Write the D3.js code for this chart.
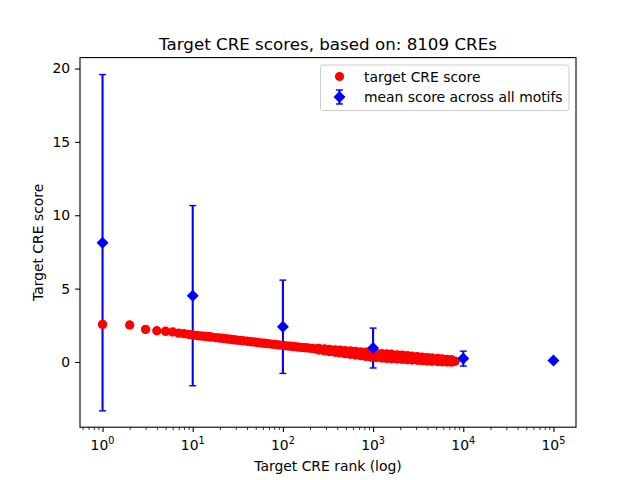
<!DOCTYPE html>
<html>
<head>
<meta charset="utf-8">
<script src="https://cdn.jsdelivr.net/npm/d3@7"></script>
<style>
  html, body { margin: 0; padding: 0; background: #fff; }
  svg { display: block; font-family: "DejaVu Sans", sans-serif; }
</style>
</head>
<body>
<svg id="chart" width="640" height="480"></svg>
<script>
const creRanks = [1, 2, 3, 4, 5, 6, 7, 8, 9, 10, 11, 12, 13, 14, 15, 16, 18, 20, 22, 24, 26, 28, 30, 33, 36,
  40, 44, 48, 52, 57, 62, 68, 75, 82, 90, 100, 110, 120, 132, 145, 160, 175, 190, 210, 230, 250, 275, 300,
  330, 360, 400, 440, 480, 530, 580, 640, 700, 770, 850, 930, 1000, 1100, 1200, 1350, 1500, 1650, 1800,
  2000, 2200, 2400, 2650, 2900, 3200, 3500, 3850, 4200, 4600, 5100, 5600, 6100, 6700, 7400, 8109];
const creScores = [2.56, 2.52, 2.22, 2.13, 2.09, 2.04, 1.97, 1.93, 1.88, 1.84, 1.81, 1.78, 1.76, 1.74, 1.72,
  1.70, 1.66, 1.63, 1.60, 1.57, 1.55, 1.52, 1.50, 1.47, 1.45, 1.41, 1.38, 1.36, 1.33, 1.30, 1.28, 1.25, 1.22,
  1.19, 1.16, 1.13, 1.10, 1.08, 1.05, 1.02, 0.99, 0.97, 0.95, 0.92, 0.89, 0.87, 0.84, 0.81, 0.78, 0.76, 0.73,
  0.70, 0.68, 0.65, 0.62, 0.60, 0.57, 0.54, 0.52, 0.49, 0.47, 0.45, 0.43, 0.41, 0.39, 0.37, 0.35, 0.33, 0.31,
  0.29, 0.27, 0.25, 0.23, 0.21, 0.19, 0.17, 0.16, 0.14, 0.12, 0.10, 0.09, 0.07, 0.05];

// scatter of the band in the tail: upper and lower edge points
const spreadRanks = [250, 290, 330, 380, 430, 490, 560, 640, 730, 830, 950, 1080, 1250, 1420, 1600, 1850,
  2100, 2400, 2700, 3100, 3500, 4000, 4500, 5200, 5800, 6600, 7400];
const spreadHigh = [0.92, 0.88, 0.85, 0.825, 0.80, 0.77, 0.745, 0.72, 0.69, 0.665, 0.64, 0.605, 0.57, 0.545,
  0.525, 0.485, 0.46, 0.42, 0.395, 0.355, 0.33, 0.29, 0.27, 0.235, 0.215, 0.18, 0.15];
const spreadLow = [0.82, 0.76, 0.71, 0.665, 0.62, 0.57, 0.525, 0.48, 0.43, 0.385, 0.34, 0.305, 0.27, 0.245,
  0.225, 0.205, 0.18, 0.16, 0.135, 0.115, 0.09, 0.07, 0.05, 0.035, 0.015, 0.0, -0.01];

// mean score across all motifs, with error bars
const motifRanks = [1, 10, 100, 1000, 10000, 100000];
const motifMeans = [8.13, 4.52, 2.40, 0.95, 0.23, 0.10];
const motifErrs = [11.46, 6.14, 3.18, 1.36, 0.51, 0];

const yTicks = [0, 5, 10, 15, 20];
const xTicks = [1, 10, 100, 1000, 10000, 100000];

const W = 640, H = 480;
const m = { left: 80, right: 576, top: 57.6, bottom: 427.2 };
const FS = 13.9;

const svg = d3.select('#chart');
svg.append('rect').attr('width', W).attr('height', H).attr('fill', '#fff');

const x = d3.scaleLog().domain([Math.pow(10, -0.25), Math.pow(10, 5.25)]).range([m.left, m.right]);
const y = d3.scaleLinear().domain([-4.445, 20.745]).range([m.bottom, m.top]);

const plot = svg.append('g');

// error bars (under the red points)
const eb = plot.append('g');
motifRanks.forEach((r, i) => {
  const lo = motifMeans[i] - motifErrs[i], hi = motifMeans[i] + motifErrs[i];
  if (motifErrs[i] <= 0) return;
  eb.append('line').attr('x1', x(r)).attr('x2', x(r)).attr('y1', y(lo)).attr('y2', y(hi))
    .attr('stroke', '#0000ff').attr('stroke-width', 2.1);
  [lo, hi].forEach(v => eb.append('line')
    .attr('x1', x(r) - 3.5).attr('x2', x(r) + 3.5).attr('y1', y(v)).attr('y2', y(v))
    .attr('stroke', '#0000ff').attr('stroke-width', 1.4));
});

// red CRE points
const pts = creRanks.map((r, i) => [r, creScores[i]])
  .concat(spreadRanks.map((r, i) => [r, spreadHigh[i]]))
  .concat(spreadRanks.map((r, i) => [r, spreadLow[i]]));
plot.append('g').selectAll('circle').data(pts).join('circle')
  .attr('cx', d => x(d[0])).attr('cy', d => y(d[1])).attr('r', 4.7)
  .attr('fill', '#ff0000');

// blue diamonds on top
const diamond = (cx, cy, s) => `M${cx},${cy - s}L${cx + s},${cy}L${cx},${cy + s}L${cx - s},${cy}Z`;
plot.append('g').selectAll('path').data(motifRanks).join('path')
  .attr('d', (d, i) => diamond(x(d), y(motifMeans[i]), 6))
  .attr('fill', '#0000ff');

// frame
svg.append('rect').attr('x', m.left).attr('y', m.top)
  .attr('width', m.right - m.left).attr('height', m.bottom - m.top)
  .attr('fill', 'none').attr('stroke', '#000').attr('stroke-width', 1.1);

// x axis: major + minor ticks
const minor = [];
for (let e = -1; e <= 5; e++) for (let k = 2; k <= 9; k++) {
  const v = k * Math.pow(10, e);
  if (v >= x.domain()[0] && v <= x.domain()[1]) minor.push(v);
}
const xAxis = svg.append('g').attr('transform', `translate(0,${m.bottom})`)
  .call(d3.axisBottom(x).tickValues(xTicks).tickSize(4.9).tickPadding(4.9).tickFormat(''));
xAxis.select('.domain').remove();
xAxis.selectAll('.tick line').attr('stroke-width', 1.1);
svg.append('g').attr('transform', `translate(0,${m.bottom})`)
  .call(d3.axisBottom(x).tickValues(minor).tickSize(2.8).tickFormat(''))
  .call(g => g.select('.domain').remove())
  .selectAll('.tick line').attr('stroke-width', 0.8);

xTicks.forEach(v => {
  const t = svg.append('text').attr('x', x(v)).attr('y', 449.5).attr('text-anchor', 'middle')
    .attr('font-size', FS).attr('fill', '#000');
  t.append('tspan').text('10');
  t.append('tspan').attr('font-size', 9.7).attr('dy', -6).text(String(Math.round(Math.log10(v))));
});

// y axis
const yAxis = svg.append('g').attr('transform', `translate(${m.left},0)`)
  .call(d3.axisLeft(y).tickValues(yTicks).tickSize(4.9).tickPadding(4.9));
yAxis.select('.domain').remove();
yAxis.selectAll('.tick line').attr('stroke-width', 1.1);
yAxis.selectAll('.tick text').attr('font-size', FS).attr('font-family', 'DejaVu Sans').attr('fill', '#000');

// labels
svg.append('text').attr('x', (m.left + m.right) / 2).attr('y', 49.5).attr('text-anchor', 'middle')
  .attr('font-size', 16.7).text('Target CRE scores, based on: 8109 CREs');
svg.append('text').attr('x', (m.left + m.right) / 2).attr('y', 471).attr('text-anchor', 'middle')
  .attr('font-size', FS).text('Target CRE rank (log)');
svg.append('text').attr('transform', `translate(43,${(m.top + m.bottom) / 2}) rotate(-90)`)
  .attr('text-anchor', 'middle').attr('font-size', FS).text('Target CRE score');

// legend
const lg = svg.append('g');
lg.append('rect').attr('x', 320.5).attr('y', 65).attr('width', 248.5).attr('height', 45.5)
  .attr('rx', 2.5).attr('fill', '#fff').attr('fill-opacity', 0.8)
  .attr('stroke', '#cccccc').attr('stroke-width', 1);
lg.append('circle').attr('cx', 339.5).attr('cy', 76.5).attr('r', 4.6).attr('fill', '#ff0000');
lg.append('text').attr('x', 364).attr('y', 81.5).attr('font-size', FS).text('target CRE score');
lg.append('line').attr('x1', 339.5).attr('x2', 339.5).attr('y1', 90).attr('y2', 104)
  .attr('stroke', '#0000ff').attr('stroke-width', 2.1);
[90, 104].forEach(v => lg.append('line').attr('x1', 336).attr('x2', 343).attr('y1', v).attr('y2', v)
  .attr('stroke', '#0000ff').attr('stroke-width', 1.4));
lg.append('path').attr('d', diamond(339.5, 97, 6)).attr('fill', '#0000ff');
lg.append('text').attr('x', 364).attr('y', 101.5).attr('font-size', FS).text('mean score across all motifs');
</script>
</body>
</html>
